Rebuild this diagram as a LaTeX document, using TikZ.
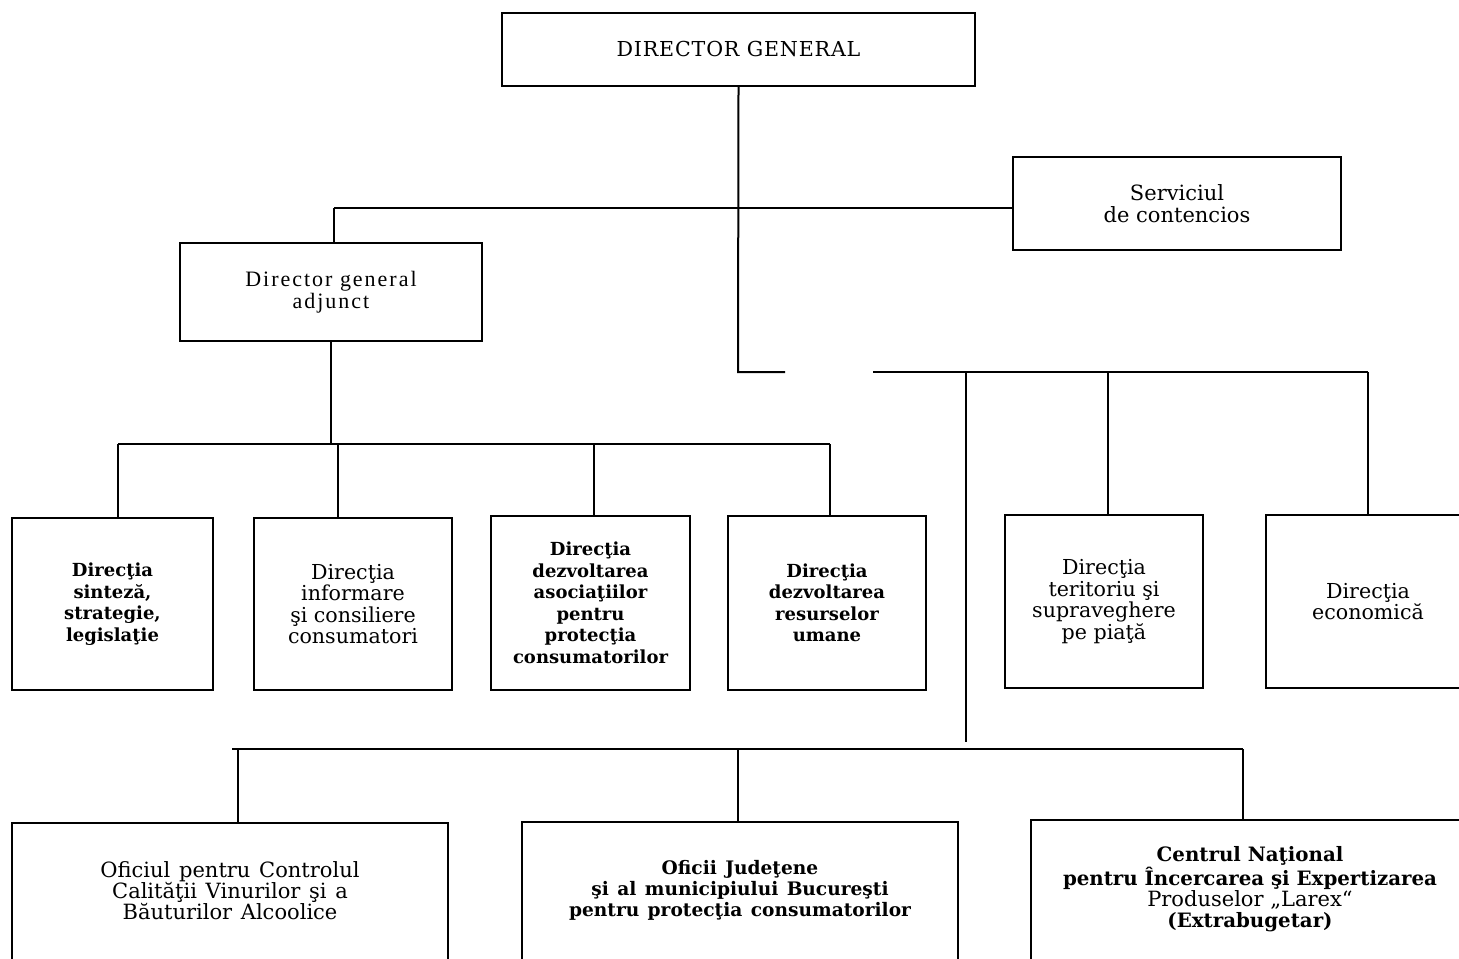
\documentclass[tikz,border=0pt]{standalone}
\usepackage{fontspec}
\setmainfont{DejaVu Serif}
\newfontfamily\adjfont[LetterSpace=9]{Liberation Serif}
\newfontfamily\capsfont[LetterSpace=4]{DejaVu Serif}
\newfontfamily\widefont[WordSpace=1.3]{DejaVu Serif}
\begin{document}
\begin{tikzpicture}[x=0.5pt,y=-0.5pt,
  box/.style={draw, line width=1pt, inner sep=0pt, align=center},
  reg/.style={font=\fontsize{10.3}{10.75}\selectfont},
  bld/.style={font=\fontsize{9}{10.75}\selectfont\bfseries},
  txt/.style={inner sep=0pt, align=center},
  conn/.style={line width=1pt}]
\useasboundingbox (0,0) rectangle (1459,958);
\clip (0,0) rectangle (1459,958);
% top
\node[box, minimum width=236.5pt, minimum height=36.5pt, font=\capsfont\fontsize{10.3}{10}\selectfont] (dg) at (738.5,49.5) {DIRECTOR GENERAL};
\node[box, minimum width=164pt, minimum height=46.5pt, font=\fontsize{10.5}{10.75}\selectfont] (serv) at (1177,203.5) {Serviciul\\de contencios};
\node[box, minimum width=151pt, minimum height=49pt, font=\adjfont\fontsize{11}{10.75}\selectfont] (adj) at (331,292) {Director general\\adjunct};
% row 2
\node[box, bld, minimum width=100.5pt, minimum height=86pt] (b1) at (112.5,604) {Direcţia\\sinteză,\\strategie,\\legislaţie};
\node[box, reg, minimum width=99pt, minimum height=86pt] (b2) at (353,604) {Direcţia\\informare\\şi consiliere\\consumatori};
\node[box, bld, minimum width=99.5pt, minimum height=87pt] (b3) at (590.5,603) {Direcţia\\dezvoltarea\\asociaţiilor\\pentru\\protecţia\\consumatorilor};
\node[box, bld, minimum width=99pt, minimum height=87pt] (b4) at (827,603) {Direcţia\\dezvoltarea\\resurselor\\umane};
\node[box, reg, minimum width=99pt, minimum height=86.5pt] (b5) at (1104,601.5) {Direcţia\\teritoriu şi\\supraveghere\\pe piaţă};
\node[box, reg, minimum width=102pt, minimum height=86.5pt] (b6) at (1368,601.5) {Direcţia\\economică};
% bottom row
\node[box, anchor=north, minimum width=218pt, minimum height=90pt] (oa) at (230,822) {};
\node[box, anchor=north, minimum width=218pt, minimum height=90pt] (ob) at (740,821) {};
\node[box, anchor=north, minimum width=222pt, minimum height=90pt] (oc) at (1253,819) {};
\node[txt, font=\widefont\fontsize{10.5}{10.5}\selectfont] (ta) at (230,891) {Oficiul pentru Controlul\\Calităţii Vinurilor şi a\\Băuturilor Alcoolice};
\node[txt, font=\widefont\fontsize{9.3}{10.5}\selectfont\bfseries] (tb) at (740,890) {Oficii Judeţene\\şi al municipiului Bucureşti\\pentru protecţia consumatorilor};
\node[txt, font=\fontsize{9.9}{10.6}\selectfont] (tc) at (1250,889) {\textbf{Centrul Naţional}\\\textbf{pentru Încercarea şi Expertizarea}\\{\fontsize{10.5}{10.6}\selectfont Produselor „Larex“}\\\textbf{(Extrabugetar)}};
% connector points
\coordinate (dgk) at (738,372);
\coordinate (dgend) at (785,372);
\coordinate (busL) at (334,208);
\coordinate (b2L) at (118,444);
\coordinate (b2R) at (830,444);
\coordinate (rbL) at (873,372);
\coordinate (rbR) at (1368,372);
\coordinate (rv) at (966,372);
\coordinate (rvend) at (966,742);
\coordinate (r5) at (1108,372);
\coordinate (bbL) at (232,749);
\coordinate (bbR) at (1243,749);
% connectors
\draw[conn] (dg.south) -- (dgk) -- (dgend);
\draw[conn] (busL) -- (busL -| serv.west);
\draw[conn] (busL) -- (busL |- adj.north);
\draw[conn] (adj.south) -- (adj.south |- b2L);
\draw[conn] (b2L) -- (b2R);
\draw[conn] (b2L) -- (b2L |- b1.north);
\draw[conn] (338,444) -- (338,444 |- b2.north);
\draw[conn] (594,444) -- (594,444 |- b3.north);
\draw[conn] (b2R) -- (b2R |- b4.north);
\draw[conn] (rbL) -- (rbR);
\draw[conn] (r5) -- (r5 |- b5.north);
\draw[conn] (rbR) -- (b6.north);
\draw[conn] (rv) -- (rvend);
\draw[conn] (bbL) -- (bbR);
\draw[conn] (238,749) -- (238,749 |- oa.north);
\draw[conn] (738,749) -- (738,749 |- ob.north);
\draw[conn] (bbR) -- (bbR |- oc.north);
\end{tikzpicture}
\end{document}
